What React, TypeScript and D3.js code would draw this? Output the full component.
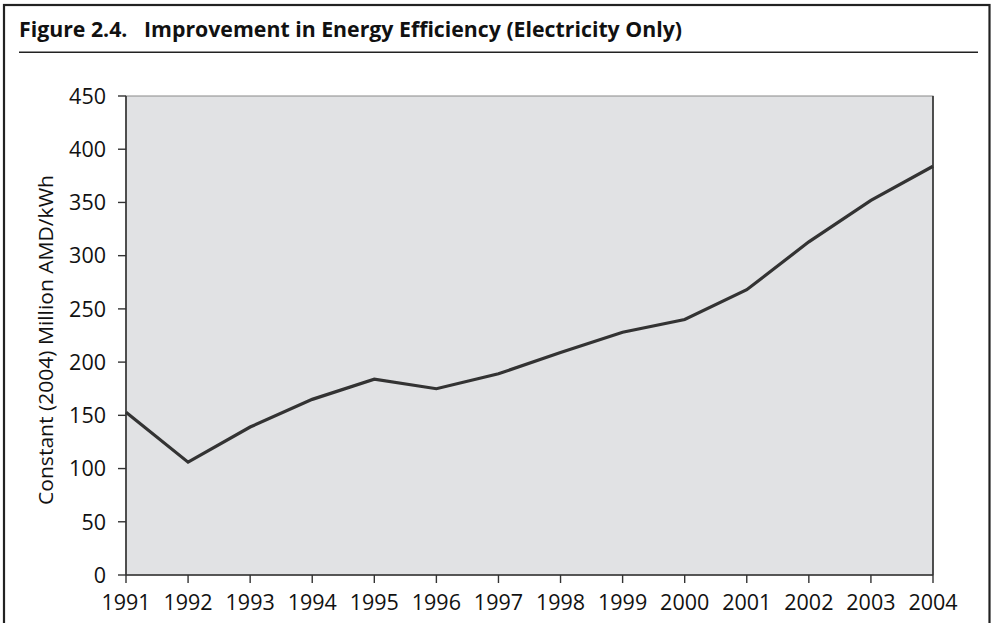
import React from "react";
import * as d3 from "d3";

const years: number[] = [1991, 1992, 1993, 1994, 1995, 1996, 1997, 1998, 1999, 2000, 2001, 2002, 2003, 2004];
const efficiency: number[] = [153, 106, 139, 165, 184, 175, 189, 209, 228, 240, 268, 313, 352, 384];
const yTicks: number[] = [0, 50, 100, 150, 200, 250, 300, 350, 400, 450];
const titleNumber = "Figure 2.4.";
const titleText = "Improvement in Energy Efficiency (Electricity Only)";
const yAxisTitle = "Constant (2004) Million AMD/kWh";

const W = 992;
const H = 623;
const FONT = "'Open Sans', 'Noto Sans', sans-serif";

export default function App() {
  const x = d3.scaleLinear().domain([1991, 2004]).range([126, 933]);
  const y = d3.scaleLinear().domain([0, 450]).range([575, 96]);
  const line = d3
    .line<number>()
    .x((_, i) => x(years[i]))
    .y((d) => y(d));

  const [x0, x1] = x.range();
  const [y0, y1] = y.range();

  return (
    <svg
      width={W}
      height={H}
      style={{ position: "absolute", left: 0, top: 0, background: "#fff" }}
    >
      {/* outer frame */}
      <rect x={4} y={5} width={985.5} height={H + 10} fill="#fff" stroke="#222" strokeWidth={2.2} />
      {/* title */}
      <text
        x={19}
        y={37}
        fontFamily={FONT}
        fontWeight={700}
        fontSize={21}
        fill="#111"
        textLength={663}
        lengthAdjust="spacingAndGlyphs"
        style={{ whiteSpace: "pre" }}
      >
        {`${titleNumber}   ${titleText}`}
      </text>
      <line x1={19} x2={978} y1={52.3} y2={52.3} stroke="#222" strokeWidth={1.5} />

      {/* plot area */}
      <rect x={x0} y={y1} width={x1 - x0} height={y0 - y1} fill="#e1e2e4" stroke="#8a8a8a" strokeWidth={1} />
      <line x1={x1} x2={x1} y1={y1} y2={y0} stroke="#333" strokeWidth={1.6} />

      {/* y axis */}
      <line x1={x0} x2={x0} y1={y1} y2={y0} stroke="#333" strokeWidth={1.6} />
      {yTicks.map((t) => (
        <g key={t}>
          <line x1={x0 - 8} x2={x0} y1={y(t)} y2={y(t)} stroke="#333" strokeWidth={1.4} />
          <text x={106} y={y(t)} dy="0.36em" textAnchor="end" fontFamily={FONT} fontSize={21.5} fill="#111">
            {t}
          </text>
        </g>
      ))}

      {/* x axis */}
      <line x1={x0} x2={x1} y1={y0} y2={y0} stroke="#333" strokeWidth={1.6} />
      {years.map((yr) => (
        <g key={yr}>
          <line x1={x(yr)} x2={x(yr)} y1={y0} y2={y0 + 8} stroke="#333" strokeWidth={1.4} />
          <text x={x(yr)} y={610} textAnchor="middle" fontFamily={FONT} fontSize={21.5} fill="#111">
            {yr}
          </text>
        </g>
      ))}

      {/* y axis title */}
      <text
        transform={`translate(53,340) rotate(-90)`}
        textAnchor="middle"
        fontFamily={FONT}
        fontSize={20.5}
        fill="#111"
        textLength={330}
        lengthAdjust="spacingAndGlyphs"
      >
        {yAxisTitle}
      </text>

      {/* data line */}
      <path d={line(efficiency) || ""} fill="none" stroke="#333" strokeWidth={3.2} strokeLinejoin="miter" />
    </svg>
  );
}
